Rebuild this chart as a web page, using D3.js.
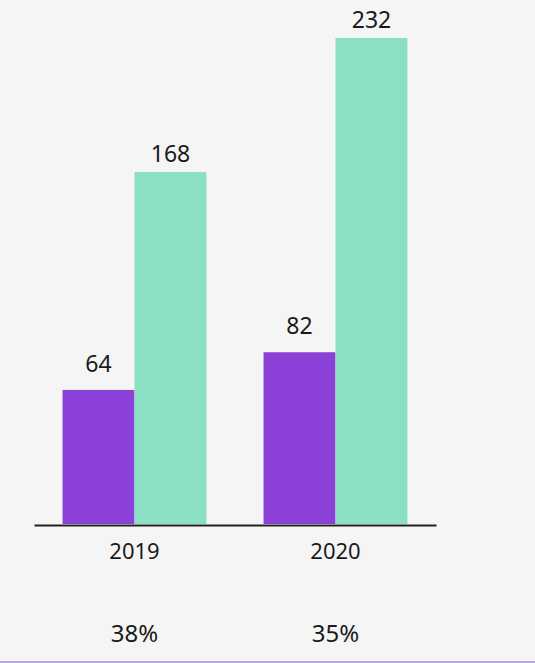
<!DOCTYPE html>
<html>
<head>
<meta charset="utf-8">
<title>Bars 2019 / 2020</title>
<script src="https://cdn.jsdelivr.net/npm/d3@7"></script>
<style>
  body { margin: 0; background: #f5f5f5; }
  text { font-family: "Noto Sans", sans-serif; fill: #1a1a1a; }
</style>
</head>
<body>
<script>
// data
var years = ["2019", "2020"];
var seriesNames = ["first", "second"];
var firstValues = [64, 82];
var secondValues = [168, 232];
var shareLabels = ["38%", "35%"];

var w = 535, h = 663;
var baseY = 524;

var svg = d3.select("body").append("svg")
    .attr("width", w)
    .attr("height", h);

svg.append("rect")
    .attr("width", w)
    .attr("height", h)
    .attr("fill", "#f5f5f5");

var rows = years.map(function(y, i) {
  return { year: y, first: firstValues[i], second: secondValues[i], share: shareLabels[i] };
});

// scales
var x0 = d3.scaleBand()
    .domain(years)
    .range([34, 436])
    .paddingInner(0.284)
    .paddingOuter(0.142);

var x1 = d3.scaleBand()
    .domain(seriesNames)
    .range([0, x0.bandwidth()]);

var y = d3.scaleLinear()
    .domain([0, 232])
    .range([baseY, 38]);

var colors = { first: "#8b41d8", second: "#8be0c3" };
var labelGap = { first: 18, second: 10 };

var groups = svg.selectAll(".grp")
    .data(rows)
    .enter()
    .append("g")
    .attr("class", "grp")
    .attr("transform", function(d) { return "translate(" + x0(d.year) + ",0)"; });

groups.selectAll("rect")
    .data(function(d) { return seriesNames.map(function(k) { return { key: k, value: d[k] }; }); })
    .enter()
    .append("rect")
    .attr("x", function(d) { return x1(d.key); })
    .attr("y", function(d) { return y(d.value); })
    .attr("width", x1.bandwidth())
    .attr("height", function(d) { return baseY - y(d.value); })
    .attr("fill", function(d) { return colors[d.key]; });

groups.selectAll(".val")
    .data(function(d) { return seriesNames.map(function(k) { return { key: k, value: d[k] }; }); })
    .enter()
    .append("text")
    .attr("class", "val")
    .attr("x", function(d) { return x1(d.key) + x1.bandwidth() / 2; })
    .attr("y", function(d) { return y(d.value) - labelGap[d.key]; })
    .attr("text-anchor", "middle")
    .style("font-size", "23px")
    .text(function(d) { return d.value; });

// x axis
var xAxis = d3.axisBottom(x0).tickSize(0).tickPadding(18);
var ax = svg.append("g")
    .attr("transform", "translate(0," + (baseY + 1) + ")")
    .call(xAxis);
ax.select(".domain").attr("stroke", "#222").attr("stroke-width", 1.8);
ax.selectAll("text")
    .style("font-size", "22px")
    .style("font-family", "'Noto Sans', sans-serif")
    .attr("fill", "#1a1a1a");

// share row
svg.selectAll(".share")
    .data(rows)
    .enter()
    .append("text")
    .attr("class", "share")
    .attr("x", function(d) { return x0(d.year) + x0.bandwidth() / 2; })
    .attr("y", 641.5)
    .attr("text-anchor", "middle")
    .style("font-size", "24px")
    .text(function(d) { return d.share; });

// bottom rule
svg.append("line")
    .attr("x1", 0).attr("x2", w)
    .attr("y1", 662).attr("y2", 662)
    .attr("stroke", "#a48fdc")
    .attr("stroke-width", 1.5);
</script>
</body>
</html>
